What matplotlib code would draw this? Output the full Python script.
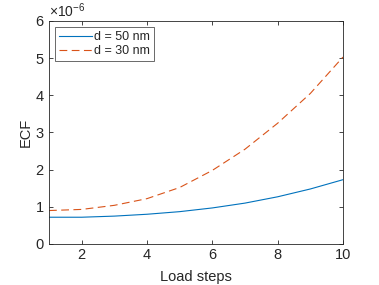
import numpy as np
import matplotlib
matplotlib.use('Agg')
import matplotlib.pyplot as plt
from matplotlib.ticker import ScalarFormatter

plt.rcParams['font.family'] = 'Liberation Sans'
plt.rcParams['font.size'] = 10
plt.rcParams['mathtext.fontset'] = 'custom'
plt.rcParams['mathtext.rm'] = 'Liberation Sans'
plt.rcParams['mathtext.it'] = 'Liberation Sans'

load_steps = [1, 2, 3, 4, 5, 6, 7, 8, 9, 10]
ecf_50 = [0.72, 0.72, 0.75, 0.80, 0.87, 0.97, 1.10, 1.27, 1.48, 1.73]  # x 1e-6
ecf_30 = [0.90, 0.93, 1.04, 1.22, 1.52, 1.98, 2.55, 3.25, 4.05, 5.03]  # x 1e-6
scale = 1e-6

axcol = '#262626'

fig = plt.figure(figsize=(3.79, 2.85), dpi=100)
ax = fig.add_axes([0.1293, 0.1439, 0.7757, 0.7825])

ax.plot(load_steps, np.array(ecf_50) * scale, color='#0072BD', lw=0.8, label='d = 50 nm')
ax.plot(load_steps, np.array(ecf_30) * scale, color='#D95319', lw=0.8, ls=(0, (7, 4)), label='d = 30 nm')

ax.set_xlim(1, 10)
ax.set_ylim(0, 6e-6)
ax.set_xticks([2, 4, 6, 8, 10])
ax.set_yticks(np.arange(0, 7) * scale)

fmt = ScalarFormatter(useMathText=True)
fmt.set_powerlimits((-3, 3))
ax.yaxis.set_major_formatter(fmt)
off = ax.yaxis.get_offset_text()
off.set_color(axcol)
off.set_fontsize(10)

ax.tick_params(direction='in', length=3, width=0.6, colors=axcol, labelcolor=axcol,
               top=True, right=True, labelsize=10.5, pad=3)
for s in ax.spines.values():
    s.set_color(axcol)
    s.set_linewidth(0.6)

ax.set_xlabel('Load steps', color=axcol, fontsize=10.5)
ax.set_ylabel('ECF', color=axcol, fontsize=10.5)
ax.xaxis.set_label_coords(0.5, -0.117)
ax.yaxis.set_label_coords(-0.054, 0.5)

leg = ax.legend(loc='upper left', fontsize=9, frameon=True, fancybox=False,
                borderaxespad=0.5, handlelength=2.6, handletextpad=0.2,
                borderpad=0.3, labelspacing=0.2)
leg.get_frame().set_edgecolor(axcol)
leg.get_frame().set_linewidth(0.6)
for t in leg.get_texts():
    t.set_color(axcol)

fig.savefig('out.png', dpi=100)
